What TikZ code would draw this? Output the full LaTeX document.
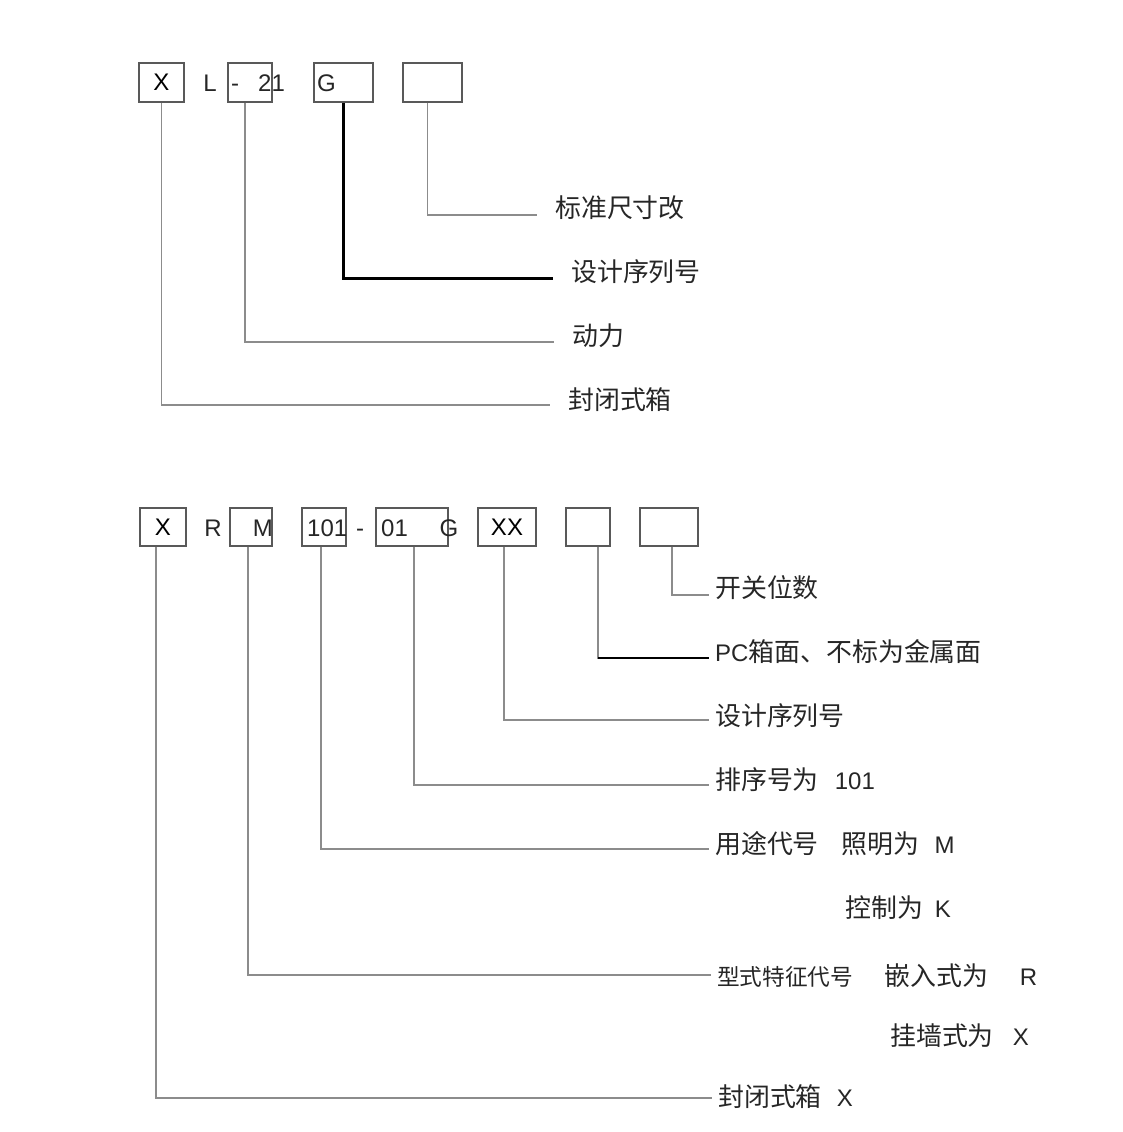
\documentclass[tikz,border=0pt]{standalone}
\usepackage{fontspec}
\setmainfont{Liberation Sans}
\newfontfamily\cjk[Scale=1.08]{Noto Sans CJK SC}
\usetikzlibrary{positioning}
\tikzset{
  bx/.style={ draw=black!65, line width=1.3pt, minimum height=39pt, inner sep=0pt }
}
\tikzset{
  txt/.style={ inner sep=0pt, text=black!85 }
}
\tikzset{
  toplbl/.style={ anchor=west, inner xsep=18pt, inner ysep=0pt, text=black!85 }
}
\tikzset{
  botlbl/.style={ anchor=west, inner xsep=6pt, inner ysep=0pt, text=black!85 }
}
\tikzset{
  ln/.style={ draw=black!45, line width=1.3pt }
}
\tikzset{
  thk/.style={ draw=black, line width=3pt }
}

\begin{document}
\begin{tikzpicture}[x=1pt, y=-1pt, font=\fontsize{24}{28}\selectfont]
      \useasboundingbox (0,0) rectangle (1122,1132);
      % upper code
      \node[bx, minimum width=45pt] (t1) at (161.5, 82.5) {X};
      \node[txt, anchor=base] at (210, 91) {L};
      \node[bx, minimum width=44pt] (t2) at (250, 82.5) {};
      \node[txt, anchor=base west] at (231, 91) {-\hspace{19pt}21};
      \node[bx, minimum width=59pt] (t3) at (343.5, 82.5) {};
      \node[txt, anchor=base west] at (317, 91) {G};
      \node[bx, minimum width=59pt] (t4) at (432.5, 82.5) {};
      \node[toplbl] (lA) at (537, 208) {\cjk 标准尺寸改};
      \node[toplbl] (lB) at (553, 272) {\cjk 设计序列号};
      \node[toplbl] (lC) at (554, 336) {\cjk 动力};
      \node[toplbl] (lD) at (550, 400) {\cjk 封闭式箱};
      \draw[ln] ([xshift=-5pt]t4.south) |- ([yshift=-7pt]lA.west);
      \draw[thk] (t3.south) |- ([yshift=-6pt]lB.west);
      \draw[ln] ([xshift=-5pt]t2.south) |- ([yshift=-6pt]lC.west);
      \draw[ln] (t1.south) |- ([yshift=-5pt]lD.west);
      % lower code
      \node[bx, minimum width=46pt, minimum height=38pt] (b1) at (163, 527) {X};
      \node[txt, anchor=base] at (213, 536) {R};
      \node[bx, minimum width=42pt, minimum height=38pt] (b2) at (251, 527) {};
      \node[txt, anchor=base east] at (273, 536) {M};
      \node[bx, minimum width=44pt, minimum height=38pt] (b3) at (324, 527) {};
      \node[txt, anchor=base west] at (307, 536) {101};
      \node[txt, anchor=base] at (360, 536) {-};
      \node[bx, minimum width=72pt, minimum height=38pt] (b4) at (412, 527) {};
      \node[txt, anchor=base west] at (381, 536) {01};
      \node[txt, anchor=base] at (449, 536) {G};
      \node[bx, minimum width=58pt, minimum height=38pt] (b5) at (507, 527) {XX};
      \node[bx, minimum width=44pt, minimum height=38pt] (b6) at (588, 527) {};
      \node[bx, minimum width=58pt, minimum height=38pt] (b7) at (669, 527) {};
      \node[botlbl] (lE) at (709, 588) {\cjk 开关位数};
      \node[botlbl] (lF) at (709, 652) {PC{\cjk 箱面、不标为金属面}};
      \node[botlbl] (lG) at (709, 716) {\cjk 设计序列号};
      \node[botlbl] (lH) at (709, 780) {{\cjk 排序号为}\hspace{16pt}101};
      \node[botlbl] (lI) at (709, 844) {{\cjk 用途代号}\hspace{23pt}{\cjk 照明为}\hspace{15pt}M};
      \node[txt, anchor=west] (kz) at (845, 908) {{\cjk 控制为}\hspace{12pt}K};
      \node[botlbl] (lJ) at (711, 976) {{\cjk\fontsize{21}{21}\selectfont 型式特征代号}\hspace{31pt}{\cjk 嵌入式为}\hspace{32pt}R};
      \node[txt, anchor=west] (gq) at (890, 1036) {{\cjk 挂墙式为}\hspace{19pt}X};
      \node[botlbl] (lK) at (712, 1097) {{\cjk 封闭式箱}\hspace{15pt}X};
      \draw[ln] ([xshift=3pt]b7.south) |- ([yshift=-7pt]lE.west);
      \draw[ln] ([xshift=10pt]b6.south) |- ([yshift=-6pt]lF.west);
      \draw[line width=2pt] ([xshift=10pt]b6.south |- 0,658) -- ([yshift=-6pt]lF.west);
      \draw[ln] ([xshift=-3pt]b5.south) |- ([yshift=-4pt]lG.west);
      \draw[ln] ([xshift=2pt]b4.south) |- ([yshift=-5pt]lH.west);
      \draw[ln] ([xshift=-3pt]b3.south) |- ([yshift=-5pt]lI.west);
      \draw[ln] ([xshift=-3pt]b2.south) |- ([yshift=1pt]lJ.west);
      \draw[ln] ([xshift=-7pt]b1.south) |- ([yshift=-1pt]lK.west);
\end{tikzpicture}
\end{document}
